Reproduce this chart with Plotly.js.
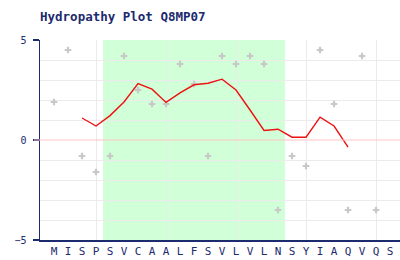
<!DOCTYPE html>
<html>
<head>
<meta charset="utf-8">
<script src="https://cdn.plot.ly/plotly-3.0.1.min.js"></script>
<style>html,body{margin:0;padding:0;background:#fff;}#chart{width:400px;height:260px;}</style>
</head>
<body>
<div id="chart"></div>
<script>
// Sequence residues (x-axis tick labels)
const residues = ['M','I','S','P','S','V','C','A','A','L','F','S','V','L','V','L','N','S','Y','I','A','Q','V','Q','S'];
// Per-residue hydropathy scores (grey crosses); last residue has no marker drawn
const scores = [1.9,4.5,-0.8,-1.6,-0.8,4.2,2.5,1.8,1.8,3.8,2.8,-0.8,4.2,3.8,4.2,3.8,-3.5,-0.8,-1.3,4.5,1.8,-3.5,4.2,-3.5,null];
// Window-averaged hydropathy (red line)
const windowAvg = [null,null,1.10,0.70,1.22,1.90,2.82,2.54,1.88,2.36,2.76,2.84,3.04,2.50,1.50,0.48,0.54,0.14,0.14,1.14,0.70,-0.36,null,null,null];
// Highlighted (hydrophobic) segment, residue indices
const segStart = 4, segEnd = 16;

const idx = residues.map((_, i) => i);
const navy = '#1c2a6e';

const traces = [
  {x: idx, y: scores, type: 'scatter', mode: 'markers',
   marker: {symbol: 'cross', size: 5.5, color: '#c8c8c8'}, hoverinfo: 'skip'},
  {x: idx, y: windowAvg, type: 'scatter', mode: 'lines',
   line: {color: '#ee1111', width: 1.4}, hoverinfo: 'skip'},
  {x: [], y: [], xaxis: 'x2', type: 'scatter', mode: 'markers', hoverinfo: 'skip'}
];

const xr = [-1, 24.71];
const layout = {
  width: 400, height: 260,
  margin: {l: 40, r: 0, t: 40, b: 20},
  paper_bgcolor: '#ffffff', plot_bgcolor: '#ffffff',
  showlegend: false,
  title: {text: 'Hydropathy Plot Q8MP07', x: 40/400, xref: 'container', xanchor: 'left',
          y: 1 - 17/260, yanchor: 'middle',
          font: {family: 'DejaVu Sans Mono', size: 12.5, color: navy, weight: 'bold'}},
  xaxis: {range: xr, tickmode: 'array', tickvals: idx, ticktext: residues,
          showgrid: false, zeroline: false, showline: true, linecolor: navy, linewidth: 1.5,
          ticks: '', tickfont: {family: 'DejaVu Sans Mono', size: 11, color: navy}, fixedrange: true},
  xaxis2: {range: xr, overlaying: 'x', matches: 'x', tickmode: 'linear', tick0: 3, dtick: 5,
           showgrid: true, gridcolor: '#ebebeb', gridwidth: 1, showticklabels: false,
           ticks: '', showline: false, zeroline: false},
  yaxis: {range: [-5, 5], tickmode: 'linear', tick0: -5, dtick: 5,
          showgrid: false, zeroline: false, showline: true, linecolor: navy, linewidth: 1.5,
          ticks: 'outside', ticklen: 6, tickcolor: navy, tickwidth: 1.5,
          ticklabelstandoff: 4,
          tickfont: {family: 'DejaVu Sans Mono', size: 10, color: navy},
          minor: {tick0: 0, dtick: 1, showgrid: true, gridcolor: '#ebebeb', gridwidth: 1, ticks: ''}},
  shapes: [
    {type: 'rect', xref: 'x', yref: 'paper', x0: segStart - 0.5, x1: segEnd + 0.5, y0: 0, y1: 1,
     fillcolor: '#d0ffd8', line: {width: 0}, layer: 'below'},
    {type: 'line', xref: 'paper', yref: 'y', x0: -0.017, x1: 1, y0: 0, y1: 0,
     line: {color: '#ffc4c4', width: 1}, layer: 'above'}
  ]
};

Plotly.newPlot('chart', traces, layout, {staticPlot: true, displayModeBar: false});
</script>
</body>
</html>
